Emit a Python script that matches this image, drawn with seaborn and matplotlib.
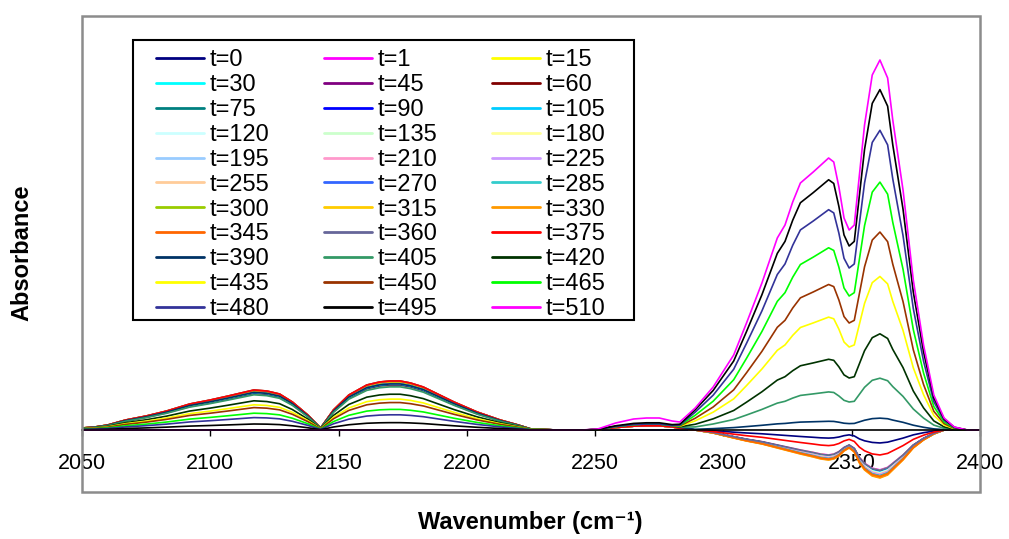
import numpy as np
import pandas as pd
import matplotlib
matplotlib.use("Agg")
import matplotlib.pyplot as plt
import seaborn as sns
from matplotlib.patches import Rectangle

wavenumber = [
    2050, 2055, 2060, 2067, 2075, 2083, 2092, 2100, 2107, 2112,
    2117, 2122, 2127, 2132, 2138, 2143, 2148, 2154, 2161, 2166,
    2170, 2174, 2178, 2183, 2187, 2195, 2204, 2213, 2220, 2225,
    2235, 2245, 2251, 2258, 2265, 2270, 2275, 2280, 2283, 2289,
    2296, 2304, 2309, 2315, 2321, 2324, 2327, 2330, 2335, 2338,
    2341, 2343, 2345, 2347, 2349, 2351, 2353, 2355, 2358, 2361,
    2364, 2366, 2370, 2374, 2378, 2382, 2386, 2390, 2395, 2400,
]

# CO2 band, t=510 spectrum
co2_band = [
    0, 0, 0, 0, 0, 0, 0, 0, 0, 0,
    0, 0, 0, 0, 0, 0, 0, 0, 0, 0,
    0, 0, 0, 0, 0, 0, 0, 0, 0, 0,
    0, 0, 0, 0, 0, 0, 0, 0, 0.003, 0.022,
    0.043, 0.075, 0.107, 0.147, 0.192, 0.205, 0.228, 0.247, 0.258, 0.265,
    0.272, 0.268, 0.243, 0.212, 0.200, 0.205, 0.255, 0.305, 0.355, 0.370,
    0.352, 0.310, 0.240, 0.150, 0.085, 0.035, 0.012, 0.003, 0, 0,
]

# negative CO2 band, deepest early spectrum
co2_loss = [
    0, 0, 0, 0, 0, 0, 0, 0, 0, 0,
    0, 0, 0, 0, 0, 0, 0, 0, 0, 0,
    0, 0, 0, 0, 0, 0, 0, 0, 0, 0,
    0, 0, 0, 0, 0, 0, 0, 0, 0, 0,
    -0.003, -0.008, -0.011, -0.014, -0.018, -0.020, -0.022, -0.024, -0.027, -0.029,
    -0.030, -0.029, -0.026, -0.021, -0.018, -0.022, -0.033, -0.040, -0.046, -0.048,
    -0.045, -0.040, -0.030, -0.018, -0.010, -0.004, 0, 0, 0, 0,
]

# CO double lobe, highest spectrum
co_lobes = [
    0.002, 0.003, 0.005, 0.010, 0.014, 0.019, 0.026, 0.030, 0.034, 0.037,
    0.040, 0.039, 0.036, 0.028, 0.015, 0.002, 0.020, 0.035, 0.045, 0.048,
    0.049, 0.049, 0.047, 0.043, 0.038, 0.028, 0.018, 0.010, 0.005, 0.001,
    0, 0, 0, 0, 0, 0, 0, 0, 0, 0,
    0, 0, 0, 0, 0, 0, 0, 0, 0, 0,
    0, 0, 0, 0, 0, 0, 0, 0, 0, 0,
    0, 0, 0, 0, 0, 0, 0, 0, 0, 0,
]

# small band near 2270
small_band = [
    0, 0, 0, 0, 0, 0, 0, 0, 0, 0,
    0, 0, 0, 0, 0, 0, 0, 0, 0, 0,
    0, 0, 0, 0, 0, 0, 0, 0, 0, 0,
    0, 0, 0.001, 0.007, 0.011, 0.012, 0.012, 0.009, 0.005, 0,
    0, 0, 0, 0, 0, 0, 0, 0, 0, 0,
    0, 0, 0, 0, 0, 0, 0, 0, 0, 0,
    0, 0, 0, 0, 0, 0, 0, 0, 0, 0,
]

times = [0, 1, 15, 30, 45, 60, 75, 90, 105, 120, 135, 180, 195, 210, 225, 255,
         270, 285, 300, 315, 330, 345, 360, 375, 390, 405, 420, 435, 450, 465,
         480, 495, 510]

colors = ["#000080", "#FF00FF", "#FFFF00", "#00FFFF", "#800080", "#800000",
          "#008080", "#0000FF", "#00CCFF", "#CCFFFF", "#CCFFCC", "#FFFF99",
          "#99CCFF", "#FF99CC", "#CC99FF", "#FFCC99", "#3366FF", "#33CCCC",
          "#99CC00", "#FFCC00", "#FF9900", "#FF6600", "#666699", "#FF0000",
          "#003366", "#339966", "#003300", "#FFFF00", "#993300", "#00FF00",
          "#333399", "#000000", "#FF00FF"]

# weight of each band in every spectrum
co2_weight = [0, 0, 0, 0, 0, 0, 0, 0, 0, 0, 0, 0, 0, 0, 0, 0,
              0, 0, 0, 0, 0, 0, 0, 0, 0.032, 0.14, 0.26, 0.415, 0.535, 0.67,
              0.81, 0.92, 1.0]
loss_weight = [0.27, 0.83, 0.84, 0.85, 0.86, 0.86, 0.87, 0.88, 0.88, 0.89, 0.90,
               0.91, 0.92, 0.92, 0.93, 0.94, 0.95, 0.96, 0.97, 0.99, 1.00, 0.97,
               0.84, 0.52, 0, 0, 0, 0, 0, 0, 0, 0, 0]
co_weight = [0.00, 0.90, 0.91, 0.92, 0.92, 0.93, 0.93, 0.94, 0.94, 0.95, 0.95,
             0.96, 0.96, 0.96, 0.97, 0.97, 0.97, 0.98, 0.98, 0.99, 0.99, 1.00,
             1.00, 1.00, 0.94, 0.88, 0.73, 0.63, 0.56, 0.42, 0.31, 0.15, 0.00]
small_weight = [0, 0.35, 0.35, 0.35, 0.35, 0.35, 0.35, 0.35, 0.35, 0.35, 0.35,
                0.35, 0.35, 0.35, 0.35, 0.35, 0.35, 0.35, 0.35, 0.35, 0.35, 0.35,
                0.35, 0.35, 0.5, 0.5, 0.5, 0.5, 0.5, 0.5, 0.5, 0.6, 1.0]

labels = ["t=" + str(t) for t in times]

rows = []
for i, lab in enumerate(labels):
    spec = (np.array(co2_band) * co2_weight[i] + np.array(co2_loss) * loss_weight[i]
            + np.array(co_lobes) * co_weight[i] + np.array(small_band) * small_weight[i])
    rows.append(pd.DataFrame({"wavenumber": wavenumber, "absorbance": spec, "time": lab}))
df = pd.concat(rows, ignore_index=True)

sns.set_style("white")
plt.rcParams["font.family"] = ["Liberation Sans", "DejaVu Sans"]
plt.rcParams["text.color"] = "black"

fig = plt.figure(figsize=(10.09, 5.39), dpi=100)
ax = fig.add_axes([82 / 1009, 1 - 492 / 539, 898 / 1009, 476 / 539])

sns.lineplot(data=df, x="wavenumber", y="absorbance", hue="time", hue_order=labels,
             palette=colors, estimator=None, sort=False, legend=False, lw=1.2, ax=ax)
lines = list(ax.get_lines())

ax.set_xlim(2050, 2400)
ax.set_ylim(-0.062, 0.414)
ax.set_xticks(range(2050, 2401, 50))
ax.set_yticks([])
ax.set_xlabel("")
ax.set_ylabel("")
for s in ["left", "right", "top"]:
    ax.spines[s].set_visible(False)
ax.spines["bottom"].set_position(("data", 0))
ax.spines["bottom"].set_color("black")
ax.spines["bottom"].set_linewidth(1.2)
ax.tick_params(axis="x", direction="out", length=4.5, width=1.0, pad=12,
               labelsize=15.5, colors="black", bottom=True)
ax.add_patch(Rectangle((0, 0), 1, 1, transform=ax.transAxes, fill=False,
                       edgecolor="#8c8c8c", lw=1.8, clip_on=False, zorder=5))

# legend filled row by row, 3 columns
order = [r * 3 + c for c in range(3) for r in range(11)]
leg = ax.legend([lines[i] for i in order], [labels[i] for i in order], ncol=3,
                loc="upper left", bbox_to_anchor=(156 / 1009, 1 - 49.5 / 539),
                bbox_transform=fig.transFigure, fontsize=17, frameon=False,
                borderaxespad=0, borderpad=0, handlelength=2.03, handletextpad=0.25,
                columnspacing=2.3, labelspacing=0.12, labelcolor="black")
for h in leg.get_lines():
    h.set_linewidth(2)
fig.add_artist(Rectangle((133 / 1009, 1 - 320 / 539), 501 / 1009, 280 / 539,
                         transform=fig.transFigure, fill=False, edgecolor="black", lw=1.5))

fig.text(22 / 1009, 1 - 253 / 539, "Absorbance", rotation=90, ha="center", va="center",
         fontsize=17, fontweight="bold")
fig.text(530 / 1009, 1 - 522 / 539, "Wavenumber (cm\u207b\u00b9)", ha="center", va="center",
         fontsize=17, fontweight="bold")

fig.savefig("out.png", dpi=100)
